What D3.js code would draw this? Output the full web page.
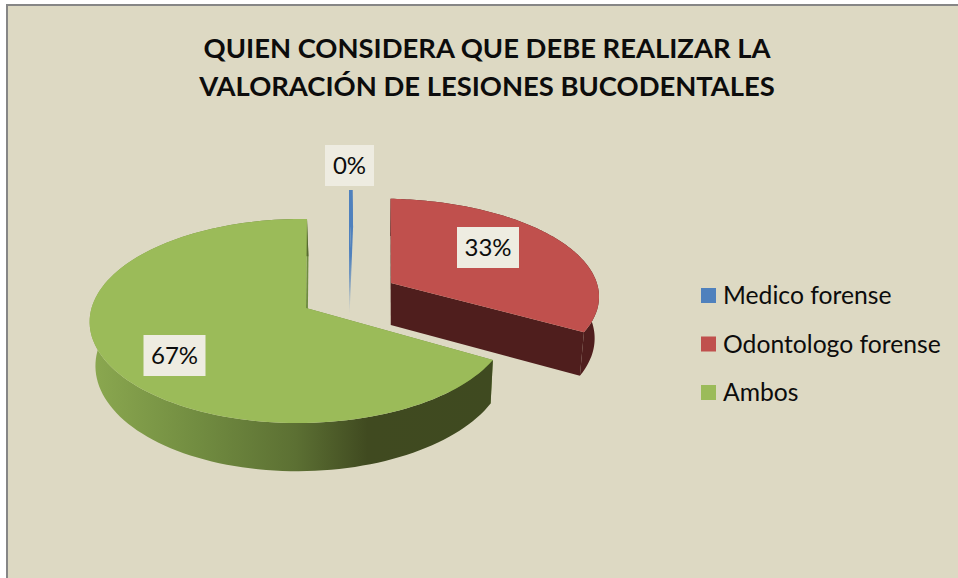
<!DOCTYPE html>
<html>
<head>
    <meta charset="utf-8">
    <title>Valoración de lesiones bucodentales</title>
    <script src="https://d3js.org/d3.v7.min.js"></script>
    <style>
        html, body { margin: 0; padding: 0; background: #fff; }
        svg { display: block; }
        text { font-family: Lato, "Open Sans", sans-serif; fill: #0c0c0c; }
    </style>
</head>
<body>
<svg width="958" height="578"></svg>
<script>
    // values
    const categories = ['Medico forense', 'Odontologo forense', 'Ambos'];
    const values = [0.3, 33, 66.7];
    const titleLines = ['QUIEN CONSIDERA QUE DEBE REALIZAR LA', 'VALORACIÓN DE LESIONES BUCODENTALES'];

    const colors = ['#4f81bd', '#c0504d', '#9bbb59'];
    const swatchColors = ['#4f81bd', '#c0504d', '#9bbb59'];

    // each slice is pulled out on its own, so each one has its own apex on screen
    const sliceLayout = [
        { x: 349, y: 272, rx: 210, ry: 92.5, lean: 0, label: [349.5, 165.5] },
        { x: 391, y: 283, rx: 212, ry: 95, lean: -4, label: [488, 247.5] },
        { x: 306, y: 308, rx: 208, ry: 100.3, lean: 1, label: [174.5, 355.5] }
    ];

    // perspective of the tilted disc
    const depthK = 0.1275, sideK = 0.03;
    const thickness = 42, vanishX = 380, vanishK = 0.02;

    const svg = d3.select('svg');
    const defs = svg.append('defs');

    // background panel
    svg.append('rect')
        .attr('x', 7).attr('y', 5)
        .attr('width', 960).attr('height', 600)
        .attr('fill', '#ddd9c3')
        .attr('stroke', '#868686')
        .attr('stroke-width', 2);

    // title
    svg.append('g').selectAll('text').data(titleLines)
        .enter().append('text')
        .attr('x', 487)
        .attr('y', (d, i) => 58 + i * 38)
        .attr('text-anchor', 'middle')
        .attr('font-size', 27.4)
        .attr('font-weight', 700)
        .text(d => d);

    // side gradient of the big slice
    const greenSide = defs.append('linearGradient')
        .attr('id', 'greenSide')
        .attr('gradientUnits', 'userSpaceOnUse')
        .attr('x1', 95).attr('x2', 496).attr('y1', 0).attr('y2', 0);
    [[0, '#8aa74f'], [0.25, '#728d41'], [0.5, '#5c7033'], [0.68, '#404a20'], [1, '#3f4a20']]
        .forEach(s => greenSide.append('stop').attr('offset', s[0]).attr('stop-color', s[1]));

    // the thin slice fades out towards its foot
    const blueFade = defs.append('linearGradient')
        .attr('id', 'blueFade')
        .attr('gradientUnits', 'userSpaceOnUse')
        .attr('x1', 0).attr('x2', 0).attr('y1', 190).attr('y2', 312);
    [[0, '#4f81bd', 1], [0.55, '#4f81bd', 1], [0.8, '#7f9fbf', 0.8], [1, '#b5c0c4', 0.4]]
        .forEach(s => blueFade.append('stop').attr('offset', s[0]).attr('stop-color', s[1]).attr('stop-opacity', s[2]));

    const pie = d3.pie().sort(null).value(d => d);
    const arcs = pie(values);
    const line = d3.line().x(d => d.x).y(d => d.y);

    const project = (s, angle, r) => {
        const u = r * Math.sin(angle), v = r * Math.cos(angle);
        const depth = 1 + depthK * v + sideK * u;
        return {
            x: s.x + s.rx * u / depth + s.lean * v,
            y: s.y - s.ry * v / depth,
            depth: depth
        };
    };

    // same point on the underside of the disc
    const drop = p => ({
        x: p.x + (vanishX - p.x) * vanishK,
        y: p.y + thickness / p.depth
    });

    const rim = (s, a) => d3.range(0, 121)
        .map(i => project(s, a.startAngle + (a.endAngle - a.startAngle) * i / 120, 1));

    const sideFill = ['url(#blueFade)', '#4f1e1d', 'url(#greenSide)'];
    const cutFill = ['url(#blueFade)', '#4f1e1d', '#6f8c40'];
    const topFill = ['url(#blueFade)', colors[1], colors[2]];

    const slices = svg.append('g');

    arcs.forEach((a, i) => {
        const s = sliceLayout[i];
        const points = rim(s, a);
        const apex = project(s, 0, 0);
        const g = slices.append('g').attr('class', 'slice');

        // the two cut faces
        [points[0], points[points.length - 1]].forEach(p => {
            g.append('path')
                .attr('d', line([apex, p, drop(p), drop(apex)]) + 'Z')
                .attr('fill', cutFill[i]);
        });

        // outer wall
        g.append('path')
            .attr('d', line(points.concat(points.map(drop).reverse())) + 'Z')
            .attr('fill', sideFill[i]);

        // top face
        g.append('path')
            .attr('d', line([apex].concat(points)) + 'Z')
            .attr('fill', topFill[i]);
    });

    // value labels
    const percent = d3.format('.0%');
    const total = d3.sum(values);
    const labels = svg.append('g').selectAll('g').data(values)
        .enter().append('g')
        .attr('transform', (d, i) => `translate(${sliceLayout[i].label})`);

    labels.append('rect')
        .attr('x', (d, i) => i === 0 ? -24.5 : -31)
        .attr('y', -20.5)
        .attr('width', (d, i) => i === 0 ? 49 : 62)
        .attr('height', 41)
        .attr('fill', '#eeece1');

    labels.append('text')
        .attr('text-anchor', 'middle')
        .attr('y', 8.5)
        .attr('font-size', 24)
        .text(d => percent(d / total));

    // legend
    const legend = svg.append('g').selectAll('g').data(categories)
        .enter().append('g')
        .attr('transform', (d, i) => `translate(701,${288 + i * 48.5})`);

    legend.append('rect')
        .attr('width', 15).attr('height', 15)
        .attr('fill', (d, i) => swatchColors[i]);

    legend.append('text')
        .attr('x', 22)
        .attr('y', 16)
        .attr('font-size', 24.7)
        .text(d => d);
</script>
</body>
</html>
